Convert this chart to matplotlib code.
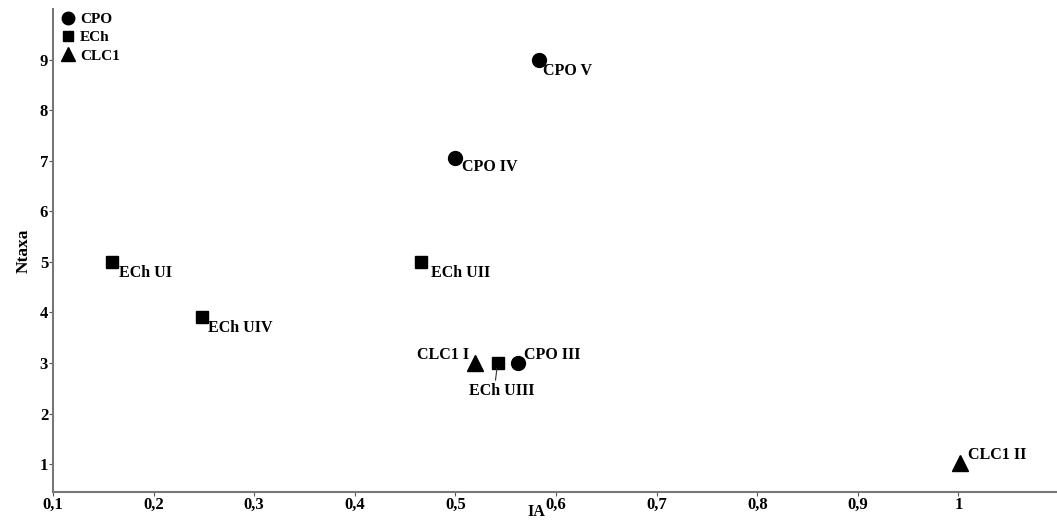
import matplotlib.pyplot as plt

# data
cpo_ia = [0.583, 0.500, 0.562]
cpo_ntaxa = [9.0, 7.05, 3.0]
cpo_names = ["CPO V", "CPO IV", "CPO III"]

ech_ia = [0.159, 0.248, 0.466, 0.542]
ech_ntaxa = [5.0, 3.92, 5.0, 3.0]
ech_names = ["ECh UI", "ECh UIV", "ECh UII", "ECh UIII"]

clc_ia = [0.519, 1.002]
clc_ntaxa = [3.0, 1.02]
clc_names = ["CLC1 I", "CLC1 II"]

x_ticks = [0.1, 0.2, 0.3, 0.4, 0.5, 0.6, 0.7, 0.8, 0.9, 1.0]
x_tick_labels = ["0,1", "0,2", "0,3", "0,4", "0,5", "0,6", "0,7", "0,8", "0,9", "1"]
y_ticks = [1, 2, 3, 4, 5, 6, 7, 8, 9]

plt.rcParams['font.family'] = ['Liberation Serif', 'DejaVu Serif']
plt.rcParams['font.weight'] = 'bold'

fig = plt.figure(figsize=(10.57, 5.22), dpi=100)
ax = fig.add_axes([53 / 1057, 30 / 522, 1004 / 1057, 483 / 522])

ax.plot(cpo_ia, cpo_ntaxa, 'o', color='black', markersize=10, label='CPO')
ax.plot(ech_ia, ech_ntaxa, 's', color='black', markersize=8.5, label='ECh')
ax.plot(clc_ia, clc_ntaxa, '^', color='black', markersize=11, label='CLC1')

# label offsets in pixels (dx, dy, ha)
offsets = {
    "CPO V": (4, -11, 'left'),
    "CPO IV": (7, -9, 'left'),
    "CPO III": (6, 8, 'left'),
    "ECh UI": (7, -11, 'left'),
    "ECh UIV": (6, -11, 'left'),
    "ECh UII": (10, -11, 'left'),
    "CLC1 I": (-5, 8, 'right'),
    "CLC1 II": (8, 8, 'left'),
}

for xs, ys, names in [(cpo_ia, cpo_ntaxa, cpo_names),
                      (ech_ia, ech_ntaxa, ech_names),
                      (clc_ia, clc_ntaxa, clc_names)]:
    for x, y, name in zip(xs, ys, names):
        if name == "ECh UIII":
            # label sits below, joined to the marker by a short leader line
            ax.annotate(name, (x, y), xytext=(4, -28), textcoords='offset pixels',
                        ha='center', va='center', fontsize=11.5, fontweight='bold',
                        arrowprops=dict(arrowstyle='-', color='#333333', lw=0.8,
                                        shrinkA=0, shrinkB=4, relpos=(0.4, 1.0)))
            continue
        dx, dy, ha = offsets[name]
        ax.annotate(name, (x, y), xytext=(dx, dy), textcoords='offset pixels',
                    ha=ha, va='center', fontsize=11.5, fontweight='bold')

ax.set_xlim(0.1, 1.098)
ax.set_ylim(0.45, 10.0)
ax.set_xticks(x_ticks)
ax.set_xticklabels(x_tick_labels)
ax.set_yticks(y_ticks)
ax.tick_params(axis='both', direction='out', length=3, width=0.8, color='#555555',
               labelsize=12, pad=0.5)

for side in ['top', 'right']:
    ax.spines[side].set_visible(False)
for side in ['left', 'bottom']:
    ax.spines[side].set_color('#777777')
    ax.spines[side].set_linewidth(1.5)

ax.set_xlabel("IA", fontsize=11.5, fontweight='bold', va='bottom')
ax.xaxis.set_label_coords(0.481, -0.058)
ax.set_ylabel("Ntaxa", fontsize=12.5, fontweight='bold', labelpad=6)

leg = ax.legend(loc='upper left', bbox_to_anchor=(-0.002, 1.012), frameon=False,
                fontsize=11, handletextpad=0.3, labelspacing=0.3,
                handlelength=1.0, markerscale=0.9, borderaxespad=0.2)

plt.savefig("out.png", dpi=100)
plt.close()
